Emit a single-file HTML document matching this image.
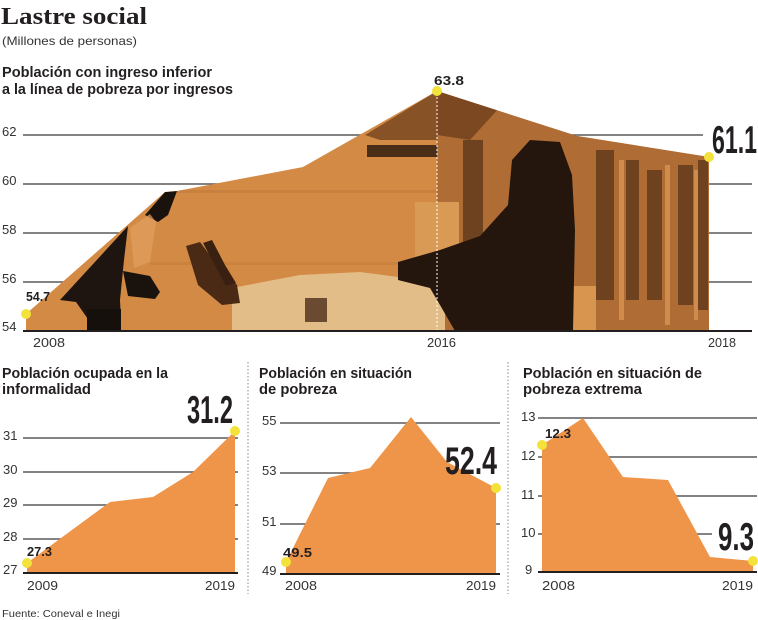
<!DOCTYPE html>
<html>
<head>
<meta charset="utf-8">
<style>
  html,body{margin:0;padding:0;background:#ffffff;}
  svg{display:block;}
  text{font-family:"Liberation Sans",sans-serif;fill:#231f20;}
  .serif{font-family:"Liberation Serif",serif;}
  .tick{font-size:13px;fill:#333;}
  .yr{font-size:13px;fill:#333;}
  .ttl{font-size:14.5px;font-weight:bold;}
  .dl{font-size:13px;font-weight:bold;}
  .big{font-size:39px;font-weight:bold;}
</style>
</head>
<body>
<svg width="758" height="620" viewBox="0 0 758 620" xmlns="http://www.w3.org/2000/svg">
  <defs>
    <clipPath id="mainclip">
      <polygon points="26,314 165,192 177,191 303,167 437,91 577,136 709,157 709,331 26,331"/>
    </clipPath>
  </defs>

  <!-- Titles -->
  <text x="1" y="24" class="serif" font-size="24" font-weight="bold" textLength="146" lengthAdjust="spacingAndGlyphs">Lastre social</text>
  <text x="2" y="45" font-size="12" style="fill:#333" textLength="135" lengthAdjust="spacingAndGlyphs">(Millones de personas)</text>
  <text x="2" y="77" class="ttl" textLength="210" lengthAdjust="spacingAndGlyphs">Población con ingreso inferior</text>
  <text x="2" y="94" class="ttl" textLength="231" lengthAdjust="spacingAndGlyphs">a la línea de pobreza por ingresos</text>

  <!-- Main chart gridlines -->
  <g stroke="#5a5a5a" stroke-width="1.5">
    <line x1="23" y1="135" x2="703" y2="135"/>
    <line x1="23" y1="184" x2="752" y2="184"/>
    <line x1="23" y1="233" x2="752" y2="233"/>
    <line x1="23" y1="282" x2="752" y2="282"/>
  </g>
  <text x="2" y="136" class="tick">62</text>
  <text x="2" y="185" class="tick">60</text>
  <text x="2" y="234" class="tick">58</text>
  <text x="2" y="283" class="tick">56</text>
  <text x="2" y="331" class="tick">54</text>

  <!-- Main chart photo-like area -->
  <g clip-path="url(#mainclip)">
    <rect x="0" y="80" width="720" height="260" fill="#d38a45"/>
    <!-- floor subtle bands -->
    <rect x="170" y="190" width="270" height="3" fill="#c27a3a" opacity="0.6"/>
    <rect x="150" y="262" width="290" height="3" fill="#c27a3a" opacity="0.5"/>
    <!-- dark textured zone near peak -->
    <polygon points="365,135 437,91 437,140 380,140" fill="#7a4822" opacity="0.85"/>
    <rect x="367" y="145" width="70" height="12" fill="#4a2e18"/>
    <!-- stone wall -->
    <rect x="437" y="85" width="275" height="250" fill="#b06c35"/>
    <polygon points="437,91 500,107 470,140 437,135" fill="#6e401d" opacity="0.8"/>
    <g fill="#5a3418" opacity="0.75">
      <rect x="463" y="140" width="20" height="130"/>
      <rect x="596" y="150" width="18" height="150"/>
      <rect x="626" y="160" width="13" height="140"/>
      <rect x="647" y="170" width="15" height="130"/>
      <rect x="678" y="165" width="15" height="140"/>
      <rect x="698" y="160" width="10" height="150"/>
    </g>
    <g fill="#d99552" opacity="0.8">
      <rect x="619" y="160" width="5" height="160"/>
      <rect x="665" y="165" width="5" height="160"/>
      <rect x="694" y="170" width="4" height="150"/>
    </g>
    <!-- light stone blocks -->
    <rect x="415" y="202" width="44" height="72" fill="#d89a55"/>
    <rect x="546" y="286" width="50" height="45" fill="#d8954f"/>
    <!-- light pants/blanket -->
    <polygon points="232,288 300,275 360,272 420,280 445,292 445,331 232,331" fill="#e3bd88"/>
    <rect x="305" y="298" width="22" height="24" fill="#6a4a30"/>
    <!-- feet -->
    <polygon points="186,246 200,242 215,262 237,285 240,303 222,305 198,285" fill="#4a2a15"/>
    <polygon points="203,243 212,240 225,265 236,283 226,286" fill="#3a2010"/>
    <!-- sitting person -->
    <polygon points="398,262 440,250 480,236 508,205 512,160 530,140 560,142 572,175 575,230 573,331 455,331 440,305 430,288 398,280" fill="#24160c"/>
    <!-- left walking person -->
    <polygon points="60,300 128,226 124,260 120,300 121,320 90,322 76,302" fill="#1e1510"/>
    <polygon points="87,309 121,309 121,331 87,331" fill="#15100c"/>
    <polygon points="123,271 150,276 160,292 155,299 128,296" fill="#1a120c"/>
    <polygon points="145,215 165,192 177,191 168,215 158,222" fill="#1a120c"/>
    <polygon points="130,228 150,214 156,222 150,262 134,268" fill="#e0a060" opacity="0.7"/>
  </g>

  <!-- dashed vertical at 2016 -->
  <line x1="437" y1="93" x2="437" y2="331" stroke="#ffffff" stroke-width="1" stroke-dasharray="2,2"/>
  <!-- baseline main -->
  <line x1="23" y1="331" x2="752" y2="331" stroke="#231f20" stroke-width="2"/>

  <text x="33" y="347" class="yr" textLength="32" lengthAdjust="spacingAndGlyphs">2008</text>
  <text x="427" y="347" class="yr" textLength="29" lengthAdjust="spacingAndGlyphs">2016</text>
  <text x="708" y="347" class="yr" textLength="28" lengthAdjust="spacingAndGlyphs">2018</text>

  <text x="26" y="301" class="dl" textLength="24" lengthAdjust="spacingAndGlyphs">54.7</text>
  <text x="434" y="85" class="dl" textLength="30" lengthAdjust="spacingAndGlyphs">63.8</text>
  <text x="712" y="153" class="big" textLength="45" lengthAdjust="spacingAndGlyphs">61.1</text>

  <!-- separators -->
  <g stroke="#8a8a8a" stroke-width="1" stroke-dasharray="1.5,2">
    <line x1="248" y1="362" x2="248" y2="594"/>
    <line x1="508" y1="362" x2="508" y2="594"/>
  </g>

  <!-- Chart 1 -->
  <text x="2" y="378" class="ttl" font-size="14" textLength="166" lengthAdjust="spacingAndGlyphs">Población ocupada en la</text>
  <text x="2" y="394" class="ttl" font-size="14" textLength="89" lengthAdjust="spacingAndGlyphs">informalidad</text>
  <g stroke="#5a5a5a" stroke-width="1.5">
    <line x1="23" y1="438" x2="238" y2="438"/>
    <line x1="23" y1="472" x2="238" y2="472"/>
    <line x1="23" y1="505" x2="238" y2="505"/>
    <line x1="23" y1="539" x2="238" y2="539"/>
  </g>
  <polygon points="27,563 110,502 153,497 193,472 235,431 235,573 27,573" fill="#ef9549"/>
  <line x1="23" y1="573" x2="238" y2="573" stroke="#231f20" stroke-width="2"/>
  <text x="3" y="440" class="tick">31</text>
  <text x="3" y="474" class="tick">30</text>
  <text x="3" y="507" class="tick">29</text>
  <text x="3" y="541" class="tick">28</text>
  <text x="3" y="574" class="tick">27</text>
  <text x="27" y="556" class="dl" textLength="25" lengthAdjust="spacingAndGlyphs">27.3</text>
  <text x="187" y="423" class="big" textLength="46" lengthAdjust="spacingAndGlyphs">31.2</text>
  <text x="27" y="590" class="yr" textLength="31" lengthAdjust="spacingAndGlyphs">2009</text>
  <text x="205" y="590" class="yr" textLength="30" lengthAdjust="spacingAndGlyphs">2019</text>

  <!-- Chart 2 -->
  <text x="259" y="378" class="ttl" font-size="14" textLength="153" lengthAdjust="spacingAndGlyphs">Población en situación</text>
  <text x="259" y="394" class="ttl" font-size="14" textLength="78" lengthAdjust="spacingAndGlyphs">de pobreza</text>
  <g stroke="#5a5a5a" stroke-width="1.5">
    <line x1="280" y1="423" x2="500" y2="423"/>
    <line x1="280" y1="473" x2="444" y2="473"/>
    <line x1="280" y1="524" x2="500" y2="524"/>
  </g>
  <polygon points="286,562 328,478 370,468 411,417 447,462 496,488 496,574 286,574" fill="#ef9549"/>
  <line x1="280" y1="574" x2="500" y2="574" stroke="#231f20" stroke-width="2"/>
  <text x="262" y="425" class="tick">55</text>
  <text x="262" y="475" class="tick">53</text>
  <text x="262" y="526" class="tick">51</text>
  <text x="262" y="575" class="tick">49</text>
  <text x="283" y="557" class="dl" textLength="29" lengthAdjust="spacingAndGlyphs">49.5</text>
  <text x="445" y="474" class="big" textLength="52" lengthAdjust="spacingAndGlyphs">52.4</text>
  <text x="285" y="590" class="yr" textLength="32" lengthAdjust="spacingAndGlyphs">2008</text>
  <text x="466" y="590" class="yr" textLength="30" lengthAdjust="spacingAndGlyphs">2019</text>

  <!-- Chart 3 -->
  <text x="523" y="378" class="ttl" font-size="14" textLength="179" lengthAdjust="spacingAndGlyphs">Población en situación de</text>
  <text x="523" y="394" class="ttl" font-size="14" textLength="119" lengthAdjust="spacingAndGlyphs">pobreza extrema</text>
  <g stroke="#5a5a5a" stroke-width="1.5">
    <line x1="538" y1="418" x2="757" y2="418"/>
    <line x1="538" y1="457" x2="757" y2="457"/>
    <line x1="538" y1="496" x2="757" y2="496"/>
    <line x1="538" y1="534" x2="712" y2="534"/>
  </g>
  <polygon points="542,445 583,418 623,477 668,480 710,557 753,561 753,572 542,572" fill="#ef9549"/>
  <line x1="538" y1="572" x2="757" y2="572" stroke="#231f20" stroke-width="2"/>
  <text x="521" y="421" class="tick">13</text>
  <text x="521" y="460" class="tick">12</text>
  <text x="521" y="499" class="tick">11</text>
  <text x="521" y="537" class="tick">10</text>
  <text x="525" y="574" class="tick">9</text>
  <text x="545" y="438" class="dl" textLength="26" lengthAdjust="spacingAndGlyphs">12.3</text>
  <text x="718" y="550" class="big" font-size="38" textLength="36" lengthAdjust="spacingAndGlyphs">9.3</text>
  <text x="542" y="590" class="yr" textLength="33" lengthAdjust="spacingAndGlyphs">2008</text>
  <text x="722" y="590" class="yr" textLength="31" lengthAdjust="spacingAndGlyphs">2019</text>

  <!-- Yellow dots -->
  <g fill="#f3e23a">
    <circle cx="26" cy="314" r="5"/>
    <circle cx="437" cy="91" r="5"/>
    <circle cx="709" cy="157" r="5"/>
    <circle cx="27" cy="563" r="5"/>
    <circle cx="235" cy="431" r="5"/>
    <circle cx="286" cy="562" r="5"/>
    <circle cx="496" cy="488" r="5"/>
    <circle cx="542" cy="445" r="5"/>
    <circle cx="753" cy="561" r="5"/>
  </g>

  <!-- Footer -->
  <text x="2" y="617" font-size="10.5" style="fill:#333" textLength="118" lengthAdjust="spacingAndGlyphs">Fuente: Coneval e Inegi</text>
</svg>
</body>
</html>
